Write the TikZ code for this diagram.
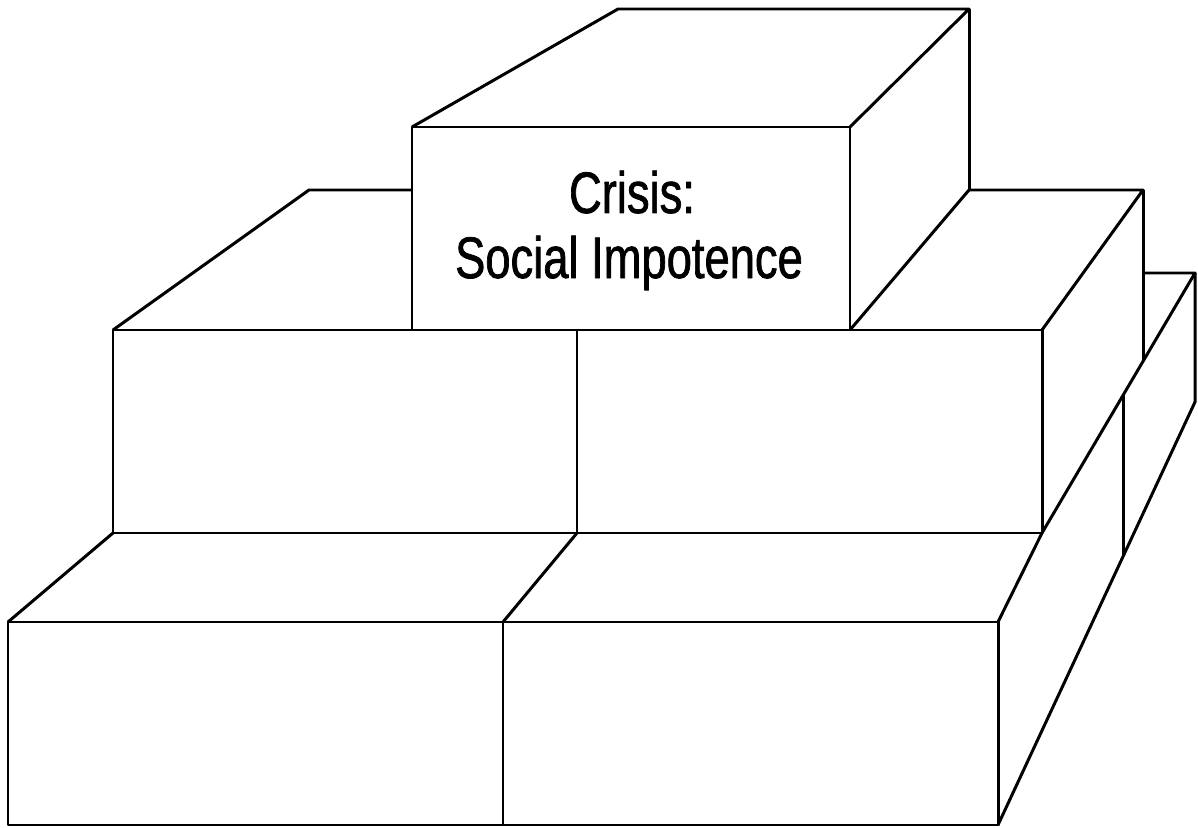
\documentclass[tikz,border=0pt]{standalone}
\usepackage{fontspec}
\newfontfamily\narrowsans{Liberation Sans}[FakeStretch=0.775, FakeBold=1.2]
\begin{document}
\begin{tikzpicture}[x=0.02cm, y=0.02cm, line width=1.7pt, line join=round]
\tikzstyle{every node}+=[inner sep=0pt]
\tikzstyle{label}=[font=\narrowsans\fontsize{33.3pt}{37pt}\selectfont, anchor=base]
\useasboundingbox (0,0) rectangle (1198,-828);
% top block
\draw [black] (412,-127) rectangle (850,-330);
\draw [black] (412,-127) -- (618,-9) -- (969,-9) -- (850,-127);
\draw [black] (969,-9) -- (969,-190);
\draw [black] (850,-330) -- (969,-190);
\node [label] (crisis) at (632,-213) {Crisis:};
\node [label] (impotence) at (629,-278) {Social Impotence};
% middle row
\draw [black] (113,-330) rectangle (1042,-533);
\draw [black] (577,-330) -- (577,-533);
\draw [black] (113,-330) -- (309,-190) -- (412,-190);
\draw [black] (969,-190) -- (1143,-190) -- (1042,-330);
\draw [black] (1143,-190) -- (1143,-361);
% bottom row
\draw [black] (8,-622) rectangle (998,-825);
\draw [black] (503,-622) -- (503,-825);
\draw [black] (8,-622) -- (113,-533);
\draw [black] (503,-622) -- (577,-533);
\draw [black] (998,-622) -- (1042,-533) -- (1195,-273) -- (1143,-273);
\draw [black] (1195,-273) -- (1195,-402) -- (998,-825);
\draw [black] (1123,-395) -- (1123,-555);
\end{tikzpicture}
\end{document}
